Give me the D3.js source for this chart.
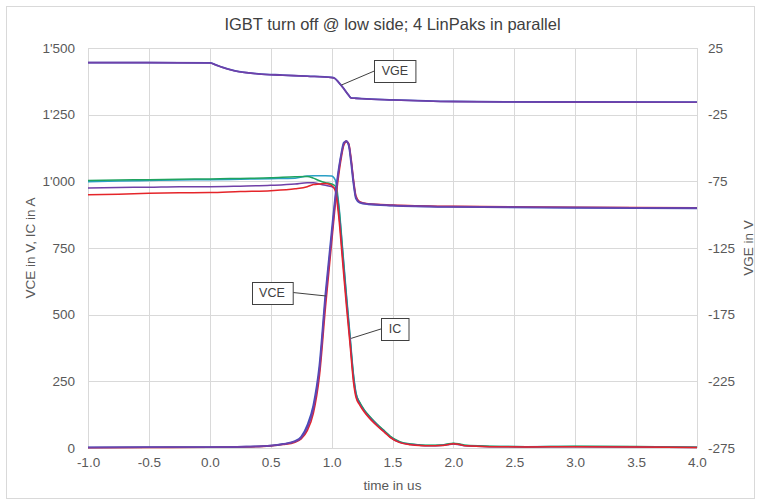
<!DOCTYPE html>
<html>
<head>
<meta charset="utf-8">
<script src="https://cdn.jsdelivr.net/npm/d3@7"></script>
<style>
  html, body { margin: 0; padding: 0; background: #fff; }
  svg { display: block; font-family: "Liberation Sans", Arial, sans-serif; }
</style>
</head>
<body>
<svg id="chart" width="761" height="504"></svg>
<script>
// ---------------- DATA ----------------
const chartTitle = "IGBT turn off @ low side; 4 LinPaks in parallel";
const xTitle = "time in us";
const yLeftTitle = "VCE in V, IC in A";
const yRightTitle = "VGE in V";

const xTicks = [-1.0, -0.5, 0.0, 0.5, 1.0, 1.5, 2.0, 2.5, 3.0, 3.5, 4.0];
const leftTicks = [0, 250, 500, 750, 1000, 1250, 1500];
const rightTicks = [-275, -225, -175, -125, -75, -25, 25];

// Collector currents (A), four devices
const icTime = [-1.0, -0.75, -0.5, -0.25, 0.0, 0.25, 0.5, 0.7, 0.8, 0.85, 0.9, 0.95, 1.0, 1.03, 1.06, 1.09, 1.12, 1.15, 1.18, 1.2, 1.23, 1.27, 1.31, 1.35, 1.39, 1.44, 1.48, 1.56, 1.65, 1.72, 1.8, 1.9, 1.95, 2.0, 2.05, 2.1, 2.3, 2.6, 3.0, 3.5, 4.0];
const icGreen  = [1003, 1005, 1006, 1008, 1009, 1011, 1013, 1017, 1018, 1012, 1002, 995, 990, 982, 900, 740, 575, 420, 270, 205, 172, 142, 120, 100, 82, 62, 45, 24, 15, 12, 10, 11, 15, 18, 15, 10, 7, 5, 7, 6, 3];
const icTeal   = [998, 1001, 1003, 1005, 1006, 1008, 1010, 1012, 1020, 1021, 1021, 1021, 1020, 1005, 910, 750, 585, 430, 275, 208, 170, 140, 118, 98, 80, 60, 43, 22, 14, 11, 9, 10, 14, 17, 14, 9, 6, 5, 6, 5, 3];
const icPurple = [975, 977, 978, 980, 980, 982, 985, 990, 995, 995, 990, 985, 980, 972, 880, 720, 560, 410, 258, 198, 166, 137, 115, 96, 78, 58, 41, 21, 13, 10, 8, 9, 12, 15, 12, 8, 5, 4, 5, 4, 2];
const icRed    = [950, 952, 955, 957, 958, 962, 965, 972, 980, 988, 990, 992, 985, 965, 860, 700, 540, 395, 245, 190, 162, 134, 112, 93, 76, 56, 40, 20, 12, 9, 8, 9, 12, 16, 13, 8, 5, 4, 5, 4, 2];

// Collector-emitter voltage (V)
const vceTime = [-1.0, -0.5, 0.0, 0.3, 0.5, 0.6, 0.7, 0.75, 0.8, 0.85, 0.9, 0.95, 1.0, 1.05, 1.08, 1.1, 1.12, 1.14, 1.16, 1.18, 1.2, 1.23, 1.3, 1.5, 2.0, 3.0, 4.0];
const vceRed    = [1, 2, 3, 4, 8, 13, 22, 34, 65, 130, 270, 530, 770, 995, 1090, 1135, 1148, 1142, 1085, 1005, 945, 924, 916, 911, 906, 903, 901];
const vcePurple = [2, 3, 3, 5, 9, 14, 24, 38, 75, 145, 290, 560, 790, 1010, 1100, 1140, 1152, 1140, 1080, 1000, 940, 922, 915, 910, 905, 902, 900];
const vceBlue   = [2, 3, 3, 5, 9, 15, 26, 42, 85, 160, 310, 580, 810, 1020, 1105, 1145, 1150, 1135, 1070, 990, 935, 920, 914, 909, 904, 901, 899];

// Gate-emitter voltage (V), right axis
const vgeTime = [-1.0, -0.5, 0.0, 0.05, 0.1, 0.2, 0.3, 0.4, 0.6, 0.8, 1.0, 1.025, 1.06, 1.1, 1.14, 1.16, 1.2, 1.25, 1.5, 2.0, 2.5, 3.0, 4.0];
const vgePurple = [14.0, 14.0, 13.8, 12.3, 10.5, 8.0, 6.5, 5.5, 4.6, 3.8, 2.8, 2.2, -1.0, -5.5, -10.5, -12.5, -12.8, -13.1, -14.0, -15.2, -15.5, -15.6, -15.7];
const vgeBlue   = [14.1, 14.1, 13.9, 12.4, 10.6, 8.1, 6.6, 5.6, 4.7, 3.9, 2.9, 2.3, -0.9, -5.4, -10.4, -12.4, -12.7, -13.0, -13.9, -15.1, -15.4, -15.5, -15.6];

// Annotations: label, point (time, value, axis), box centre (time, value)
const annoText  = ["VGE", "VCE", "IC"];
const annoAxis  = ["right", "left", "left"];
const annoPtT   = [1.08, 0.955, 1.16];
const annoPtV   = [-2.8, 570, 411];
const annoBoxT  = [1.52, 0.51, 1.52];
const annoBoxV  = [7.8, 583, 447];

// ---------------- CHART ----------------
const W = 761, H = 504;
const m = { left: 88, right: 64, top: 48, bottom: 56 };
const svg = d3.select("#chart");

const loc = d3.formatLocale({ decimal: ".", thousands: "'", grouping: [3], currency: ["", ""], minus: "-" });
const fmtLeft = loc.format(",");
const fmtX = loc.format(".1f");
const fmtRight = loc.format("d");

const x = d3.scaleLinear().domain([-1, 4]).range([m.left, W - m.right]);
const yL = d3.scaleLinear().domain([0, 1500]).range([H - m.bottom, m.top]);
const yR = d3.scaleLinear().domain([-275, 25]).range([H - m.bottom, m.top]);

// outer border
svg.append("rect").attr("x", 6.5).attr("y", 6.5).attr("width", W - 13).attr("height", H - 12)
  .attr("fill", "#fff").attr("stroke", "#d9d9d9").attr("stroke-width", 1);

const gridColor = "#d9d9d9";
const textColor = "#595959";
const tickFont = "13.5px";

// gridlines
const grid = svg.append("g");
grid.selectAll(".vg").data(xTicks).join("line")
  .attr("x1", d => Math.round(x(d)) + 0.5).attr("x2", d => Math.round(x(d)) + 0.5)
  .attr("y1", m.top).attr("y2", H - m.bottom)
  .attr("stroke", gridColor).attr("stroke-width", 1);
grid.selectAll(".hg").data(leftTicks).join("line")
  .attr("x1", m.left).attr("x2", W - m.right)
  .attr("y1", d => Math.round(yL(d)) + 0.5).attr("y2", d => Math.round(yL(d)) + 0.5)
  .attr("stroke", gridColor).attr("stroke-width", 1);

// axes (no domain lines, labels only)
const axB = d3.axisBottom(x).tickValues(xTicks).tickFormat(fmtX).tickSize(0).tickPadding(9);
const axL = d3.axisLeft(yL).tickValues(leftTicks).tickFormat(fmtLeft).tickSize(0).tickPadding(13);
const axR = d3.axisRight(yR).tickValues(rightTicks).tickFormat(fmtRight).tickSize(0).tickPadding(11);

function styleAxis(g) {
  g.select(".domain").remove();
  g.selectAll("text").attr("fill", textColor).style("font-size", tickFont)
    .style("font-family", "'Liberation Sans', Arial, sans-serif");
}
svg.append("g").attr("transform", `translate(0,${H - m.bottom})`).call(axB).call(styleAxis);
svg.append("g").attr("transform", `translate(${m.left},0)`).call(axL).call(styleAxis);
svg.append("g").attr("transform", `translate(${W - m.right},0)`).call(axR).call(styleAxis);

// titles
svg.append("text").attr("x", (m.left + W - m.right) / 2).attr("y", 30)
  .attr("text-anchor", "middle").attr("fill", "#404040").style("font-size", "16.5px").text(chartTitle);
svg.append("text").attr("x", (m.left + W - m.right) / 2).attr("y", 490)
  .attr("text-anchor", "middle").attr("fill", textColor).style("font-size", tickFont).text(xTitle);
svg.append("text").attr("transform", `translate(35,${(m.top + H - m.bottom) / 2}) rotate(-90)`)
  .attr("text-anchor", "middle").attr("fill", textColor).style("font-size", tickFont).text(yLeftTitle);
svg.append("text").attr("transform", `translate(753,${(m.top + H - m.bottom) / 2}) rotate(-90)`)
  .attr("text-anchor", "middle").attr("fill", textColor).style("font-size", tickFont).text(yRightTitle);

// series
function drawSeries(times, vals, yScale, color, width) {
  const pts = times.map((t, i) => [t, vals[i]]);
  const line = d3.line().x(d => x(d[0])).y(d => yScale(d[1])).curve(d3.curveMonotoneX);
  svg.append("path").datum(pts).attr("d", line).attr("fill", "none")
    .attr("stroke", color).attr("stroke-width", width).attr("stroke-linejoin", "round");
}
const cGreen = "#1fa35f", cTeal = "#2a9fc6", cPurple = "#7040a8", cRed = "#e5252a", cBlue = "#3d50bd";

drawSeries(icTime, icTeal, yL, cTeal, 1.5);
drawSeries(icTime, icGreen, yL, cGreen, 1.5);
drawSeries(icTime, icPurple, yL, cPurple, 1.5);
drawSeries(icTime, icRed, yL, cRed, 1.5);

drawSeries(vceTime, vceRed, yL, cRed, 1.6);
drawSeries(vceTime, vceBlue, yL, cBlue, 1.8);
drawSeries(vceTime, vcePurple, yL, cPurple, 1.6);

drawSeries(vgeTime, vgeBlue, yR, cBlue, 1.8);
drawSeries(vgeTime, vgePurple, yR, cPurple, 1.6);

// annotations
annoText.forEach((txt, i) => {
  const ys = annoAxis[i] === "right" ? yR : yL;
  const px = x(annoPtT[i]), py = ys(annoPtV[i]);
  const bx = x(annoBoxT[i]), by = ys(annoBoxV[i]);
  const g = svg.append("g");
  const t = g.append("text").attr("x", bx).attr("y", by).attr("text-anchor", "middle")
    .attr("dominant-baseline", "central").attr("fill", "#404040").style("font-size", "12.5px").text(txt);
  const bb = t.node().getBBox();
  const bw = bb.width + 15, bh = 22;
  const left = Math.round(bx - bw / 2) + 0.5, top = Math.round(by - bh / 2) + 0.5;
  const sx = px < bx ? left : left + bw;
  g.insert("line", "text").attr("x1", sx).attr("y1", by).attr("x2", px).attr("y2", py)
    .attr("stroke", "#404040").attr("stroke-width", 1);
  g.insert("rect", "text").attr("x", left).attr("y", top).attr("width", bw).attr("height", bh)
    .attr("fill", "#fff").attr("stroke", "#404040").attr("stroke-width", 1);
});
</script>
</body>
</html>
